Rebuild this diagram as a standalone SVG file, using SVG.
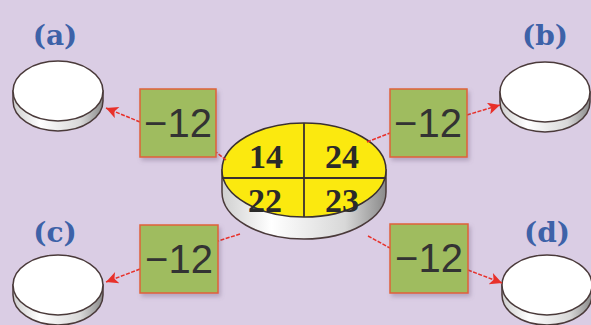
<svg xmlns="http://www.w3.org/2000/svg" width="591" height="325" viewBox="0 0 591 325">
<defs>
<linearGradient id="side" x1="0" y1="0" x2="1" y2="0">
<stop offset="0" stop-color="#cfcfcf"/>
<stop offset="0.3" stop-color="#ffffff"/>
<stop offset="0.75" stop-color="#d8d8d8"/>
<stop offset="1" stop-color="#8a8a8a"/>
</linearGradient>
<marker id="arr" viewBox="0 0 10 10" refX="10" refY="5" markerWidth="9" markerHeight="8" orient="auto" markerUnits="strokeWidth">
<path d="M0,0 L10,5 L0,10 L2.5,5 Z" fill="#e8302a"/>
</marker>
<filter id="sh" x="-20%" y="-20%" width="140%" height="150%">
<feDropShadow dx="2" dy="3" stdDeviation="2" flood-color="#6a5a7a" flood-opacity="0.35"/>
</filter>
</defs>
<style>
.lbl{font-family:"DejaVu Serif","Liberation Serif",serif;font-weight:bold;font-size:28px;fill:#3d62a8;text-anchor:middle}
.box{fill:#9fbc5e;stroke:#e0603a;stroke-width:1.5}
.bt{font-family:"Liberation Sans","DejaVu Sans",sans-serif;font-size:40px;fill:#333;text-anchor:middle}
.num{font-family:"Liberation Serif","DejaVu Serif",serif;font-weight:bold;font-size:34px;fill:#2a2a2a;text-anchor:middle}
.top{fill:#ffffff;stroke:#4a3a3a;stroke-width:1.5}
.sidep{fill:url(#side);stroke:#4a3a3a;stroke-width:1.5}
.con{stroke:#e8302a;stroke-width:1.5;fill:none;stroke-dasharray:4 1.5}
</style>
<rect width="591" height="325" fill="#dacde4"/>

<g id="disk-a">
<path class="sidep" d="M13,91 L13,101 A45,30 0 0 0 103,101 L103,91 Z"/>
<ellipse class="top" cx="58" cy="91" rx="45" ry="30"/>
<text class="lbl" x="55" y="45">(a)</text>
</g>
<g id="disk-b">
<path class="sidep" d="M500,92 L500,102 A45,30 0 0 0 590,102 L590,92 Z"/>
<ellipse class="top" cx="545" cy="92" rx="45" ry="30"/>
<text class="lbl" x="545" y="45">(b)</text>
</g>
<g id="disk-c">
<path class="sidep" d="M13,285 L13,295 A45,30 0 0 0 103,295 L103,285 Z"/>
<ellipse class="top" cx="58" cy="285" rx="45" ry="30"/>
<text class="lbl" x="55" y="242">(c)</text>
</g>
<g id="disk-d">
<path class="sidep" d="M502,285 L502,295 A45,30 0 0 0 592,295 L592,285 Z"/>
<ellipse class="top" cx="547" cy="285" rx="45" ry="30"/>
<text class="lbl" x="547" y="242">(d)</text>
</g>

<g id="center">
<path class="sidep" d="M222,170 L222,192 A82,47 0 0 0 386,192 L386,170 Z"/>
<ellipse cx="304" cy="170" rx="82" ry="47" fill="#fbe90f" stroke="#3a3030" stroke-width="1.5"/>
<line x1="304" y1="123" x2="304" y2="217" stroke="#3a3030" stroke-width="1.8"/>
<line x1="222" y1="178" x2="386" y2="178" stroke="#3a3030" stroke-width="1.8"/>
<text class="num" x="266" y="168">14</text>
<text class="num" x="342" y="168">24</text>
<text class="num" x="265" y="212">22</text>
<text class="num" x="342" y="212">23</text>
</g>

<g id="connectors">
<line class="con" x1="226" y1="160" x2="216" y2="152"/>
<line class="con" x1="140" y1="122" x2="106" y2="108" marker-end="url(#arr)"/>
<line class="con" x1="367" y1="142" x2="390" y2="133"/>
<line class="con" x1="467" y1="115" x2="500" y2="105" marker-end="url(#arr)"/>
<line class="con" x1="240" y1="234" x2="218" y2="241"/>
<line class="con" x1="140" y1="269" x2="106" y2="282" marker-end="url(#arr)"/>
<line class="con" x1="368" y1="236" x2="390" y2="248"/>
<line class="con" x1="468" y1="270" x2="502" y2="283" marker-end="url(#arr)"/>
</g>

<g id="box-a">
<rect class="box" x="140" y="89" width="76" height="68" filter="url(#sh)"/>
<text class="bt" x="178" y="137">−12</text>
</g>
<g id="box-b">
<rect class="box" x="390" y="89" width="77" height="68" filter="url(#sh)"/>
<text class="bt" x="428" y="137">−12</text>
</g>
<g id="box-c">
<rect class="box" x="140" y="225" width="78" height="68" filter="url(#sh)"/>
<text class="bt" x="179" y="273">−12</text>
</g>
<g id="box-d">
<rect class="box" x="390" y="224" width="78" height="69" filter="url(#sh)"/>
<text class="bt" x="429" y="272">−12</text>
</g>
</svg>
